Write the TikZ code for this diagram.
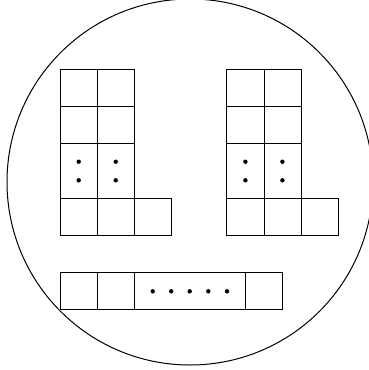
\documentclass[tikz,border=0pt]{standalone}
\begin{document}
\begin{tikzpicture}[x=1pt,y=-1pt,
  cell/.style={draw,line width=1pt},
  dotmark/.style={fill=black}]
\useasboundingbox (0,0) rectangle (369,370);
\begin{scope}
\clip (0,0) rectangle (369,370);
\draw[line width=1pt] (190,182) circle[radius=183];
\end{scope}
% L shapes
\foreach \ox in {60,226.7}{
  \begin{scope}[shift={(\ox,0)}]
    \draw[cell] (0,69) rectangle (37.3,106.3);
    \draw[cell] (37.3,69) rectangle (74.7,106.3);
    \draw[cell] (0,106.3) rectangle (37.3,143.7);
    \draw[cell] (37.3,106.3) rectangle (74.7,143.7);
    \draw[cell] (0,143.7) rectangle (37.3,198.7);
    \draw[cell] (37.3,143.7) rectangle (74.7,198.7);
    \draw[cell] (0,198.7) rectangle (37.3,235.7);
    \draw[cell] (37.3,198.7) rectangle (74.7,235.7);
    \draw[cell] (74.7,198.7) rectangle (111.7,235.7);
    \foreach \dx in {18.7,55.7}{
      \foreach \dy in {161.7,180.3}{
        \fill[dotmark] (\dx,\dy) circle[radius=2.2];
      }
    }
  \end{scope}
}
% bottom bar
\draw[cell] (60,272.7) rectangle (97.3,309.7);
\draw[cell] (97.3,272.7) rectangle (134.7,309.7);
\draw[cell] (134.7,272.7) rectangle (245.7,309.7);
\draw[cell] (245.7,272.7) rectangle (282.7,309.7);
\foreach \dx in {152.7,171.2,189.7,208.3,227}{
  \fill[dotmark] (\dx,291.3) circle[radius=2.2];
}
\end{tikzpicture}
\end{document}
